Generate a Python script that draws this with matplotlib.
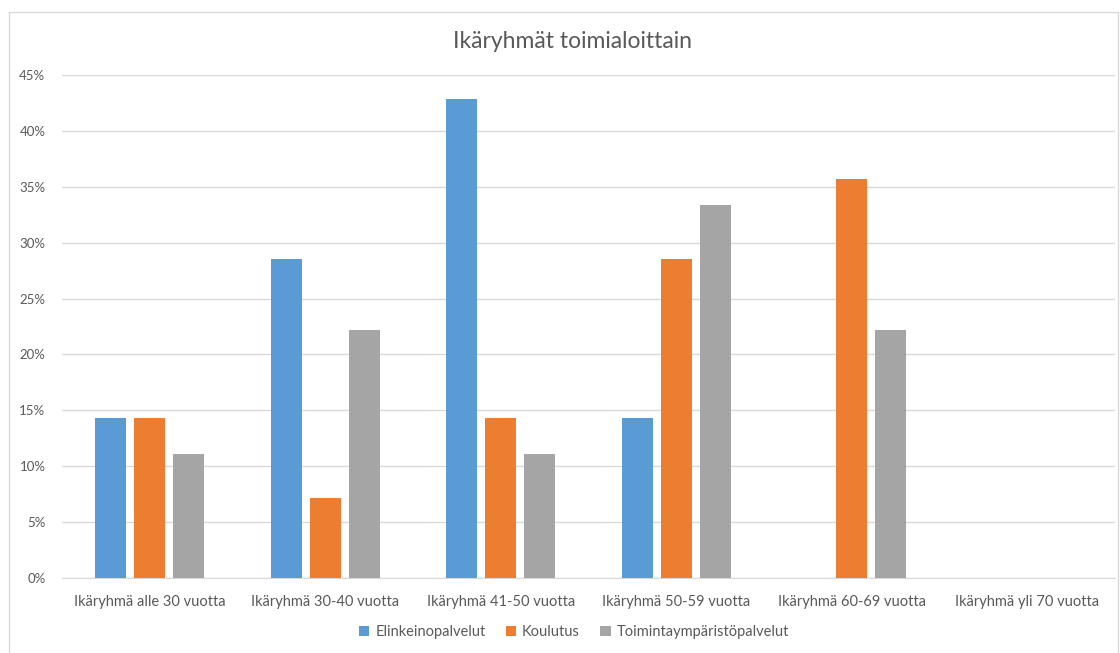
import numpy as np
import matplotlib.pyplot as plt
from matplotlib.patches import Rectangle
from matplotlib.ticker import FuncFormatter

categories = ['Ikäryhmä alle 30 vuotta', 'Ikäryhmä 30-40 vuotta', 'Ikäryhmä 41-50 vuotta',
              'Ikäryhmä 50-59 vuotta', 'Ikäryhmä 60-69 vuotta', 'Ikäryhmä yli 70 vuotta']
series_names = ['Elinkeinopalvelut', 'Koulutus', 'Toimintaympäristöpalvelut']
elinkeino = [14.29, 28.57, 42.86, 14.29, 0.0, 0.0]
koulutus = [14.29, 7.14, 14.29, 28.57, 35.71, 0.0]
toiminta = [11.11, 22.22, 11.11, 33.33, 22.22, 0.0]
colors = ['#5B9BD5', '#ED7D31', '#A5A5A5']

plt.rcParams['font.family'] = ['Lato', 'DejaVu Sans']
text_color = '#595959'

fig = plt.figure(figsize=(11.2, 6.53), dpi=100)
ax = fig.add_axes([0.0554, 0.1149, 0.94, 0.7702])

# light frame around the whole chart
fig.patches.append(Rectangle((9 / 1120, -0.01), 1109 / 1120, 1 - 12 / 653 + 0.01,
                             transform=fig.transFigure, fill=False,
                             edgecolor='#D9D9D9', linewidth=1))

x = np.arange(len(categories))
width = 0.177
step = 0.222
for i, (vals, name) in enumerate(zip([elinkeino, koulutus, toiminta], series_names)):
    ax.bar(x + (i - 1) * step, vals, width, color=colors[i], label=name, zorder=3)

ax.set_xlim(-0.5, len(categories) - 0.5)
ax.set_ylim(0, 45)
ax.set_yticks(np.arange(0, 46, 5))
ax.yaxis.set_major_formatter(FuncFormatter(lambda v, _: f'{v:.0f}%'))
ax.set_xticks(x)
ax.set_xticklabels(categories)
ax.tick_params(axis='both', length=0, colors=text_color)
ax.tick_params(axis='y', pad=12, labelsize=9.5)
ax.tick_params(axis='x', pad=12, labelsize=10.5)
ax.grid(axis='y', color='#D9D9D9', linewidth=1, zorder=0)
for side in ['top', 'right', 'left']:
    ax.spines[side].set_visible(False)
ax.spines['bottom'].set_color('#D9D9D9')

fig.text(0.511, 0.936, 'Ikäryhmät toimialoittain', ha='center', va='center',
         fontsize=16.5, color=text_color)

leg = ax.legend(loc='center', ncol=3, frameon=False, fontsize=10.5, labelcolor=text_color,
                handlelength=0.7, handleheight=0.7, handletextpad=0.4, columnspacing=1.4)
leg.set_bbox_to_anchor((574 / 1120, 1 - 632 / 653), transform=fig.transFigure)

fig.savefig('out.png', dpi=100, facecolor='white')
